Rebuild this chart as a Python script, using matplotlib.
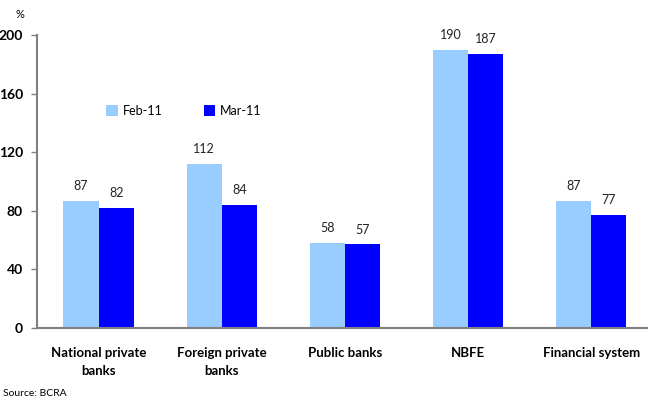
import matplotlib.pyplot as plt
import numpy as np

categories = ["National private\nbanks", "Foreign private\nbanks", "Public banks",
              "NBFE", "Financial system"]
feb_11 = [87, 112, 58, 190, 87]
mar_11 = [82, 84, 57, 187, 77]
series_names = ["Feb-11", "Mar-11"]
y_ticks = [0, 40, 80, 120, 160, 200]

plt.rcParams['font.family'] = ['Lato', 'DejaVu Sans']

fig = plt.figure(figsize=(6.48, 3.98), dpi=100)
ax = fig.add_axes([37 / 648, 70 / 398, (648 - 37) / 648, (328 - 35) / 398])

x = np.arange(len(categories))
w = 0.285
b1 = ax.bar(x - w / 2, feb_11, w, color="#99ccff", label=series_names[0])
b2 = ax.bar(x + w / 2, mar_11, w, color="#0000ff", label=series_names[1])

for bars, vals in ((b1, feb_11), (b2, mar_11)):
    for bar, v in zip(bars, vals):
        ax.text(bar.get_x() + bar.get_width() / 2, v + 6, str(v),
                ha="center", va="bottom", fontsize=9, color="#222222")

ax.set_xlim(-0.5, 4.46)
ax.set_ylim(0, 200)
ax.set_yticks(y_ticks)
ax.set_yticklabels([str(t) for t in y_ticks], fontweight="bold", fontsize=10)
ax.tick_params(axis="y", length=4, width=1, color="#808080", pad=6)
ax.set_xticks(x)
ax.set_xticklabels(categories, fontweight="bold", fontsize=9.5, linespacing=1.6)
ax.tick_params(axis="x", length=0, pad=14)

for side in ("top", "right"):
    ax.spines[side].set_visible(False)
for side in ("left", "bottom"):
    ax.spines[side].set_color("#808080")
    ax.spines[side].set_linewidth(1.5)

ax.legend(loc="upper left", bbox_to_anchor=(0.095, 0.80), ncol=2, frameon=False,
          fontsize=9, handlelength=0.9, handleheight=0.9, columnspacing=3.3,
          handletextpad=0.4)

fig.text(15 / 648, 1 - 14 / 398, "%", fontsize=8, ha="left", va="center")
fig.text(3 / 648, 1 - 393 / 398, "Source: BCRA", fontsize=7.5, ha="left", va="center")

fig.savefig("out.png", dpi=100)
